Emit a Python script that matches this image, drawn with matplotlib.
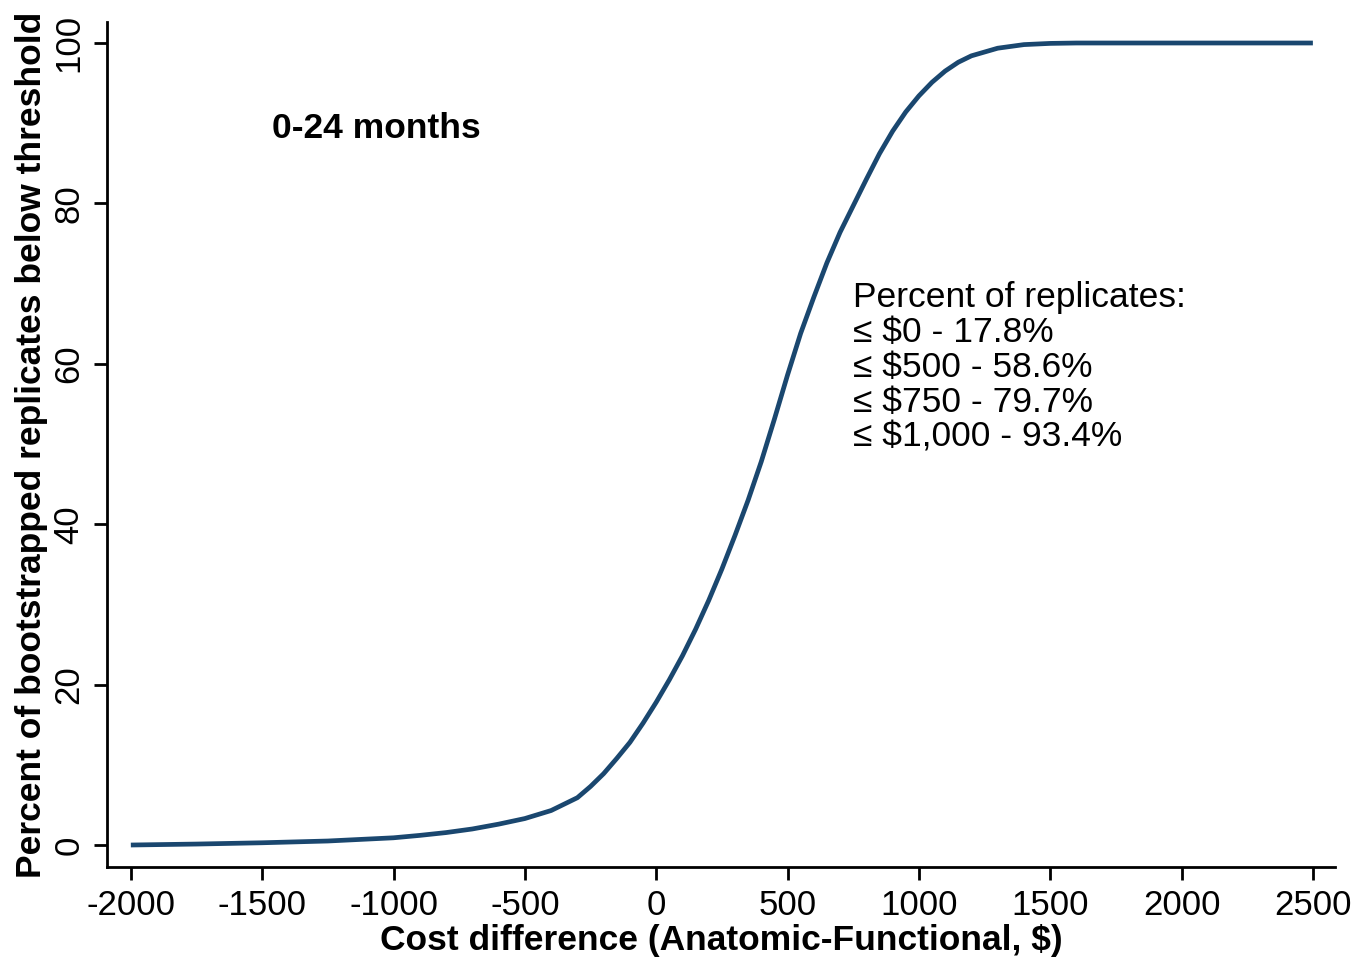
import matplotlib
matplotlib.use("Agg")
import matplotlib.pyplot as plt

plt.rcParams['font.family'] = ['Liberation Sans', 'DejaVu Sans']

# Data (cost difference, % of replicates below threshold)
cost_diff = [-2000, -1750, -1500, -1250, -1000, -900, -800, -700, -600, -500,
             -400, -300, -250, -200, -150, -100, -50, 0, 50, 100, 150, 200,
             250, 300, 350, 400, 450, 500, 550, 600, 650, 700, 750, 800, 850,
             900, 950, 1000, 1050, 1100, 1150, 1200, 1300, 1400, 1500, 1600,
             2000, 2500]
pct_below = [0.0, 0.12, 0.28, 0.5, 0.9, 1.2, 1.55, 2.0, 2.6, 3.3,
             4.3, 5.9, 7.3, 8.9, 10.8, 12.8, 15.2, 17.8, 20.6, 23.6, 26.9, 30.5,
             34.4, 38.6, 43.0, 47.8, 53.1, 58.6, 63.8, 68.3, 72.6, 76.4, 79.7,
             83.0, 86.2, 89.0, 91.4, 93.4, 95.1, 96.5, 97.6, 98.4, 99.35, 99.8,
             99.95, 100.0, 100.0, 100.0]

x_ticks = [-2000, -1500, -1000, -500, 0, 500, 1000, 1500, 2000, 2500]
y_ticks = [0, 20, 40, 60, 80, 100]

panel_label = "0-24 months"
annot_lines = ["Percent of replicates:",
               "\u2264 $0 - 17.8%",
               "\u2264 $500 - 58.6%",
               "\u2264 $750 - 79.7%",
               "\u2264 $1,000 - 93.4%"]

fig = plt.figure(figsize=(13.71, 9.63), dpi=100)
ax = fig.add_axes([0.078, 0.0997, 0.8957, 0.8773])

ax.plot(cost_diff, pct_below, color="#1a476f", lw=3.4,
        solid_joinstyle='round', solid_capstyle='butt')

ax.set_xlim(-2091, 2584)
ax.set_ylim(-2.74, 102.6)
ax.set_xticks(x_ticks)
ax.set_yticks(y_ticks)
ax.set_xticklabels([str(t) for t in x_ticks], fontsize=25)
ax.set_yticklabels([str(t) for t in y_ticks], fontsize=25, rotation=90, va='center')

for s in ['top', 'right']:
    ax.spines[s].set_visible(False)
for s in ['left', 'bottom']:
    ax.spines[s].set_linewidth(2.0)
ax.tick_params(axis='both', direction='out', length=9.5, width=2.0, pad=6)

ax.set_xlabel("Cost difference (Anatomic-Functional, $)", fontsize=25.5,
              fontweight='bold', labelpad=2)
ax.set_ylabel("Percent of bootstrapped replicates below threshold", fontsize=25.5,
              fontweight='bold', labelpad=3)

ax.text(-1463, 89.4, panel_label, fontsize=25.5, fontweight='bold',
        ha='left', va='center')
ax.text(748, 70.3, "\n".join(annot_lines), fontsize=25.5, ha='left', va='top',
        linespacing=1.07)

fig.savefig("out.png", dpi=100)
